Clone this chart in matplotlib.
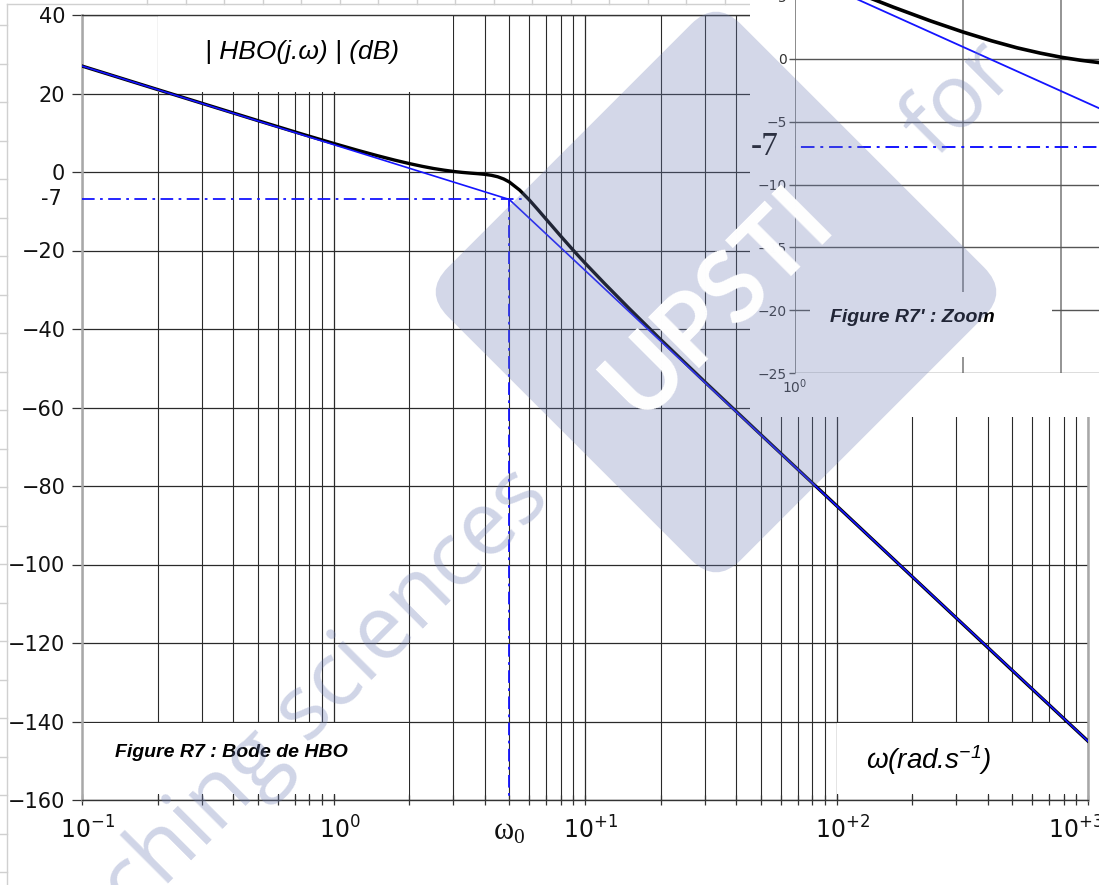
import matplotlib.pyplot as plt
import matplotlib.transforms as mtransforms
from matplotlib.lines import Line2D
from matplotlib.patches import Rectangle, FancyBboxPatch
from matplotlib.ticker import LogLocator, NullFormatter, FixedLocator

plt.rcParams['mathtext.default'] = 'regular'

# |HBO(jw)| (rad/s, dB)
w_real = [0.1, 0.2, 0.5, 0.75, 1, 1.25, 1.5, 1.75, 2, 2.25, 2.5, 2.75, 3, 3.25,
          3.5, 3.75, 4, 4.25, 4.5, 4.75, 5, 5.5, 6, 6.5, 7, 8, 9, 10, 12, 15,
          20, 30, 50, 100, 200, 500, 1000]
gain_real = [27.0, 21.0, 13.1, 9.66, 7.29, 5.51, 4.13, 3.03, 2.15, 1.45, 0.89,
             0.47, 0.14, -0.10, -0.28, -0.43, -0.60, -0.85, -1.22, -1.78,
             -2.54, -4.62, -7.09, -9.61, -12.0, -16.3, -20.0, -23.2, -28.5,
             -34.8, -42.7, -53.5, -66.9, -85.0, -103.1, -127.0, -145.0]

# straight-line asymptotes: -20 dB/dec then -60 dB/dec after w0
w_asym = [0.1, 5, 1000]
gain_asym = [27, -7, -145]

# w0 construction lines
w0 = 5
gain_w0 = -7
w_h = [0.1, 5.6]
gain_h = [gain_w0, gain_w0]
gain_v = [gain_w0, -160]

y_ticks = [40, 20, 0, -20, -40, -60, -80, -100, -120, -140, -160]
x_ticks = [0.1, 1, 10, 100, 1000]
x_tick_labels = ['$10^{-1}$', '$10^{0}$', '$10^{+1}$', '$10^{+2}$', '$10^{+3}$']
zoom_y_ticks = [5, 0, -5, -10, -15, -20, -25]

BLUE = '#1414ff'
DASHDOT = (0, (7, 3, 1.5, 3))
W, H = 1099, 885


def fx(px):
    return px / W


def fy(py):
    return 1 - py / H


fig = plt.figure(figsize=(10.99, 8.85), dpi=100)

# ---------------- main Bode plot ----------------
ax = fig.add_axes([fx(82), fy(800), fx(1088) - fx(82), fy(15) - fy(800)], zorder=0)
ax.set_xscale('log')
ax.set_xlim(0.1, 1000)
ax.set_ylim(-160, 40)
ax.set_yticks(y_ticks)
ax.set_xticks(x_ticks)
ax.set_xticklabels(x_tick_labels)
ax.xaxis.set_minor_locator(LogLocator(base=10, subs=range(2, 10)))
ax.xaxis.set_minor_formatter(NullFormatter())
ax.grid(which='major', axis='both', color='#2a2a2a', lw=0.9)
ax.grid(which='minor', axis='x', color='#2a2a2a', lw=0.8)
ax.tick_params(axis='y', direction='out', length=7, width=0.9, color='#333333',
               labelsize=15, pad=5, labelcolor='#111111')
ax.tick_params(axis='x', which='both', direction='inout', length=7, width=0.9,
               color='#333333', labelsize=17, pad=8, labelcolor='#111111')
for side in ['left', 'right']:
    ax.spines[side].set_color('#a8a8a8')
    ax.spines[side].set_linewidth(1.8)
for side in ['top', 'bottom']:
    ax.spines[side].set_color('#333333')
    ax.spines[side].set_linewidth(1.0)

# nudge the decade labels a little to the right, last one kept inside
for i, lab in enumerate(ax.get_xticklabels()):
    dx = 6 if i < len(x_ticks) - 1 else -12
    lab.set_transform(lab.get_transform()
                      + mtransforms.ScaledTranslation(dx / 100, 0, fig.dpi_scale_trans))

ax.plot(w_real, gain_real, color='black', lw=2.4, zorder=3)
ax.plot(w_asym, gain_asym, color=BLUE, lw=1.2, zorder=4)
ax.plot(w_h, gain_h, color=BLUE, lw=1.3, ls=DASHDOT, zorder=4)
ax.plot([w0, w0], gain_v, color=BLUE, lw=1.3, ls=DASHDOT, zorder=4)

# white label boxes hiding the grid
for (x0, x1, y0, y1) in [(0.2 * 1.006, 3 / 1.006, 20.3, 40),
                         (0.1, 2 / 1.006, -158.5, -140.3),
                         (100 * 1.006, 1000 / 1.006, -158.5, -140.3)]:
    ax.add_patch(Rectangle((x0, y0), x1 - x0, y1 - y0, facecolor='white',
                           edgecolor='none', zorder=2))

ax.text(0.75, 30.5, '| HBO(j.ω) | (dB)', fontsize=19, style='italic',
        family='Liberation Sans', ha='center', va='center', zorder=5)
ax.text(0.135, -147.8, 'Figure R7 : Bode de HBO', fontsize=14, style='italic',
        weight='bold', family='Liberation Sans', ha='left', va='center', zorder=5)
ax.text(232, -149.8, 'ω(rad.s$^{-1}$)', fontsize=20, style='italic',
        family='Liberation Sans', ha='center', va='center', zorder=5)
ax.text(-0.02, gain_w0, '-7', transform=ax.get_yaxis_transform(), fontsize=15,
        ha='right', va='center', color='#111111')
ax.text(w0, -0.022, 'ω$_0$', transform=ax.get_xaxis_transform(), fontsize=22,
        family='Liberation Serif', ha='center', va='top', color='#111111')

# white backdrop of the zoom panel
fig.add_artist(Rectangle((fx(750), fy(417)), 1 - fx(750), 1 - fy(417),
                         transform=fig.transFigure, facecolor='white',
                         edgecolor='none', zorder=0.5))

# ---------------- zoom panel ----------------
axin = fig.add_axes([fx(795), fy(373), 558 / W, 376.8 / H], zorder=1)
axin.set_xscale('log')
axin.set_xlim(1, 10)
axin.set_ylim(-25, 5)
axin.set_yticks(zoom_y_ticks)
axin.xaxis.set_major_locator(FixedLocator([1, 10]))
axin.xaxis.set_minor_locator(LogLocator(base=10, subs=range(2, 10)))
axin.xaxis.set_minor_formatter(NullFormatter())
axin.grid(which='major', axis='y', color='#555555', lw=1.0)
axin.grid(which='major', axis='x', color='#8a8a8a', lw=1.4)
axin.grid(which='minor', axis='x', color='#777777', lw=1.1)
axin.tick_params(axis='y', direction='out', length=4, width=1.0, color='#555555',
                 labelsize=10, pad=2, labelcolor='#333333')
axin.tick_params(axis='x', which='both', length=0, labelsize=10, pad=3,
                 labelcolor='#333333')
for side in axin.spines:
    axin.spines[side].set_visible(False)

axin.plot(w_real, gain_real, color='black', lw=2.6, zorder=3)
axin.plot(w_asym, gain_asym, color=BLUE, lw=1.3, zorder=4)
axin.plot(w_h, gain_h, color=BLUE, lw=1.4, ls=DASHDOT, zorder=4)

axin.add_patch(Rectangle((0.027, -23.7), 0.434, 5.15,
                         transform=axin.get_yaxis_transform(),
                         facecolor='white', edgecolor='none', zorder=2))
axin.text(0.063, -20.6, "Figure R7' : Zoom", transform=axin.get_yaxis_transform(),
          fontsize=14, style='italic', weight='bold', family='Liberation Sans',
          ha='left', va='center', zorder=5)
axin.text(-0.03, gain_w0, '-7', transform=axin.get_yaxis_transform(),
          fontsize=24, family='Liberation Serif', ha='right', va='center',
          color='#111111')

# ---------------- sheet edge lines ----------------
edge = dict(color='#d0d0d0', lw=1.0, transform=fig.transFigure, zorder=0.2)
fig.add_artist(Line2D([fx(7), fx(7)], [fy(4), fy(885)], **edge))
fig.add_artist(Line2D([fx(7), fx(750)], [fy(4), fy(4)], **edge))
k = 0
while 25 + 38.5 * k < H:
    yk = 25 + 38.5 * k
    fig.add_artist(Line2D([0, fx(7)], [fy(yk), fy(yk)], **edge))
    k += 1
k = 0
while 147 + 38.5 * k < 750:
    xk = 147 + 38.5 * k
    fig.add_artist(Line2D([fx(xk), fx(xk)], [fy(0), fy(4)], **edge))
    k += 1

# ---------------- watermark ----------------
mark = (110 / 255, 125 / 255, 180 / 255)
side = 414
diamond = FancyBboxPatch((-side / 2, -side / 2), side, side,
                         boxstyle='round,pad=0,rounding_size=35',
                         facecolor=mark, edgecolor='none', alpha=0.3,
                         transform=mtransforms.Affine2D().rotate_deg(45)
                         .translate(716, H - 292).scale(1 / 100)
                         + fig.dpi_scale_trans, zorder=10)
fig.add_artist(diamond)
fig.text(fx(718), fy(302), 'UPSTI', fontsize=71, weight='bold', family='Lato',
         color='white', rotation=45, ha='center', va='center',
         rotation_mode='anchor', zorder=11)
fig.text(fx(552), fy(500), 'Teaching sciences', fontsize=64, family='Open Sans',
         color=mark, alpha=0.32, rotation=45, ha='right', va='baseline',
         rotation_mode='anchor', zorder=10)
fig.text(fx(935), fy(158), 'for', fontsize=64, family='Open Sans',
         color=mark, alpha=0.32, rotation=45, ha='left', va='baseline',
         rotation_mode='anchor', zorder=10)

fig.savefig('out.png', dpi=100)
